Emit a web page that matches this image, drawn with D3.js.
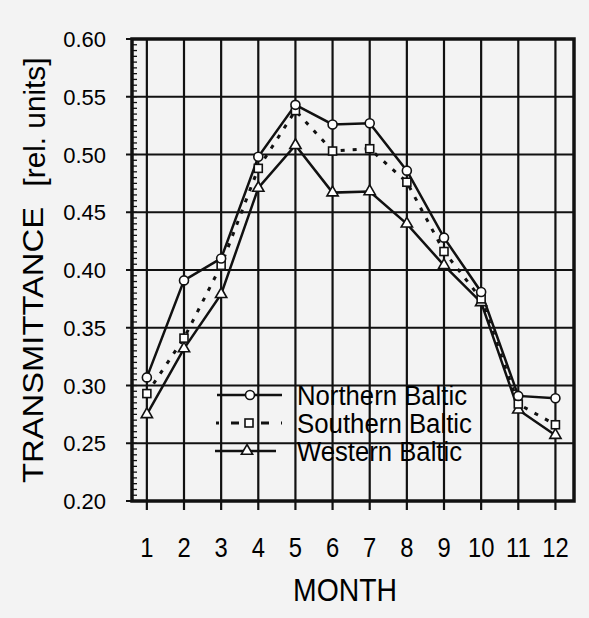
<!DOCTYPE html>
<html>
<head>
<meta charset="utf-8">
<script src="https://cdn.jsdelivr.net/npm/d3@7"></script>
<style>
  body { margin: 0; background: #f3f3f3; }
  svg { display: block; font-family: "Liberation Sans", Arial, sans-serif; }
</style>
</head>
<body>
<svg id="chart" width="589" height="618"></svg>
<script>
// values
const months = [1, 2, 3, 4, 5, 6, 7, 8, 9, 10, 11, 12];
const northern = [0.307, 0.391, 0.410, 0.498, 0.543, 0.526, 0.527, 0.486, 0.428, 0.381, 0.291, 0.289];
const southern = [0.293, 0.341, 0.404, 0.488, 0.538, 0.503, 0.505, 0.476, 0.416, 0.375, 0.284, 0.266];
const western = [0.275, 0.332, 0.379, 0.471, 0.508, 0.467, 0.468, 0.440, 0.404, 0.372, 0.279, 0.257];
const yTicks = [0.20, 0.25, 0.30, 0.35, 0.40, 0.45, 0.50, 0.55, 0.60];
const seriesNames = ["Northern Baltic", "Southern Baltic", "Western Baltic"];

const svg = d3.select("#chart");

const x = d3.scaleLinear().domain([0.6, 12.5]).range([132, 574]);
const y = d3.scaleLinear().domain([0.2, 0.6]).range([501, 39]);

const plot = svg.append("g");

// grid lines
plot.selectAll(".vgrid").data(months).enter().append("line")
  .attr("x1", d => x(d)).attr("x2", d => x(d))
  .attr("y1", y(0.6)).attr("y2", y(0.2) + 9)
  .attr("stroke", "#111").attr("stroke-width", 2.2);

plot.selectAll(".hgrid").data(yTicks).enter().append("line")
  .attr("x1", x(0.6) - 6).attr("x2", x(12.5))
  .attr("y1", d => y(d)).attr("y2", d => y(d))
  .attr("stroke", "#111").attr("stroke-width", 2.2);

// small inner ticks on the left axis
const minor = d3.range(0, 81).map(i => 0.2 + i * 0.005);
plot.selectAll(".minor").data(minor).enter().append("line")
  .attr("x1", x(0.6)).attr("x2", x(0.6) + 5)
  .attr("y1", d => y(d)).attr("y2", d => y(d))
  .attr("stroke", "#111").attr("stroke-width", 1.3);

// frame
plot.append("rect")
  .attr("x", x(0.6)).attr("y", y(0.6))
  .attr("width", x(12.5) - x(0.6)).attr("height", y(0.2) - y(0.6))
  .attr("fill", "none").attr("stroke", "#111").attr("stroke-width", 3.5);

// tick labels
svg.selectAll(".ylab").data(yTicks).enter().append("text")
  .attr("x", x(0.6) - 26).attr("y", d => y(d) + 8)
  .attr("text-anchor", "end").attr("font-size", 22).attr("fill", "#000")
  .text(d => d.toFixed(2));

svg.selectAll(".xlab").data(months).enter().append("text")
  .attr("transform", d => `translate(${x(d)},557) scale(0.88,1)`)
  .attr("text-anchor", "middle").attr("font-size", 27).attr("fill", "#000")
  .text(d => d);

svg.append("text")
  .attr("x", 345).attr("y", 601)
  .attr("text-anchor", "middle").attr("font-size", 31).attr("fill", "#000")
  .attr("textLength", 104).attr("lengthAdjust", "spacingAndGlyphs")
  .text("MONTH");

svg.append("text")
  .attr("transform", "translate(43,345) rotate(-90)")
  .attr("text-anchor", "middle").attr("font-size", 30).attr("fill", "#000")
  .attr("textLength", 276).attr("lengthAdjust", "spacingAndGlyphs")
  .text("TRANSMITTANCE");

svg.append("text")
  .attr("transform", "translate(45,122) rotate(-90)")
  .attr("text-anchor", "middle").attr("font-size", 30).attr("fill", "#000")
  .attr("textLength", 129).attr("lengthAdjust", "spacingAndGlyphs")
  .text("[rel. units]");

// series
const line = d3.line().x((d, i) => x(months[i])).y(d => y(d));

plot.append("path").datum(western).attr("d", line)
  .attr("fill", "none").attr("stroke", "#111").attr("stroke-width", 2.5);
plot.append("path").datum(southern).attr("d", line)
  .attr("fill", "none").attr("stroke", "#111").attr("stroke-width", 3)
  .attr("stroke-dasharray", "4,8");
plot.append("path").datum(northern).attr("d", line)
  .attr("fill", "none").attr("stroke", "#111").attr("stroke-width", 2.5);

const tri = d3.symbol().type(d3.symbolTriangle).size(55);

plot.selectAll(".tri").data(western).enter().append("path")
  .attr("d", tri)
  .attr("transform", (d, i) => `translate(${x(months[i])},${y(d)})`)
  .attr("fill", "#fff").attr("stroke", "#111").attr("stroke-width", 1.6);

plot.selectAll(".sq").data(southern).enter().append("rect")
  .attr("x", (d, i) => x(months[i]) - 4).attr("y", d => y(d) - 4)
  .attr("width", 8).attr("height", 8)
  .attr("fill", "#fff").attr("stroke", "#111").attr("stroke-width", 1.6);

plot.selectAll(".circ").data(northern).enter().append("circle")
  .attr("cx", (d, i) => x(months[i])).attr("cy", d => y(d)).attr("r", 4.5)
  .attr("fill", "#fff").attr("stroke", "#111").attr("stroke-width", 1.6);

// legend
const legend = svg.append("g");
const legY = [395, 423, 451];
const legLen = [170, 175, 165];

legend.append("line").attr("x1", 217).attr("x2", 282).attr("y1", legY[0]).attr("y2", legY[0])
  .attr("stroke", "#111").attr("stroke-width", 2.5);
legend.append("circle").attr("cx", 250).attr("cy", legY[0]).attr("r", 4.5)
  .attr("fill", "#fff").attr("stroke", "#111").attr("stroke-width", 1.6);

legend.append("line").attr("x1", 216).attr("x2", 282).attr("y1", legY[1]).attr("y2", legY[1])
  .attr("stroke", "#111").attr("stroke-width", 3).attr("stroke-dasharray", "3,12,8,22,8,12");
legend.append("rect").attr("x", 245).attr("y", legY[1] - 4).attr("width", 8).attr("height", 8)
  .attr("fill", "#fff").attr("stroke", "#111").attr("stroke-width", 1.6);

legend.append("line").attr("x1", 215).attr("x2", 276).attr("y1", legY[2]).attr("y2", legY[2])
  .attr("stroke", "#111").attr("stroke-width", 2.5);
legend.append("path").attr("d", tri).attr("transform", `translate(247,${legY[2]})`)
  .attr("fill", "#fff").attr("stroke", "#111").attr("stroke-width", 1.6);

legend.selectAll(".legtxt").data(seriesNames).enter().append("text")
  .attr("x", 297).attr("y", (d, i) => legY[i] + 10)
  .attr("font-size", 27).attr("fill", "#000")
  .attr("textLength", (d, i) => legLen[i]).attr("lengthAdjust", "spacingAndGlyphs")
  .text(d => d);
</script>
</body>
</html>
